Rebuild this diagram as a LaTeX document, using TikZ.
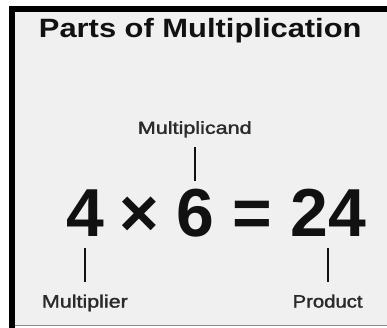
\documentclass[tikz,border=0pt]{standalone}
\usepackage{fontspec}
\setmainfont{Liberation Sans}
\newfontfamily\medfont[FakeBold=1.6]{Liberation Sans}
\usepackage{graphicx}
\definecolor{bggray}{HTML}{F0F0F0}
\definecolor{ink}{HTML}{111111}
\definecolor{labelgray}{HTML}{2A2A2A}
\definecolor{edgegray}{HTML}{8A8A8A}
\begin{document}
\begin{tikzpicture}[x=1pt,y=-1pt,
  txt/.style={inner sep=0pt, anchor=base, text=ink},
  lbl/.style={txt, text=labelgray},
  digit/.style={txt, font=\fontsize{68}{70}\selectfont\bfseries},
  conn/.style={line width=2pt, draw=ink}]
% frame and background
\fill[white] (0,0) rectangle (387,328);
\fill[bggray] (15,12) rectangle (387,326);
\fill[black] (9,6) rectangle (387,12);
\fill[black] (9,6) rectangle (15,328);
\draw[edgegray, line width=1pt] (15,326) -- (387,326);
\useasboundingbox (0,0) rectangle (387,328);
% title
\node[txt, font=\fontsize{26.5}{30}\selectfont\bfseries] (title) at (200.5,37.5)
  {\resizebox{323pt}{\height}{Parts of Multiplication}};
% equation
\node[digit] (four) at (85,237) {4};
\node[digit] (times) at (140,237) {×};
\node[digit] (six) at (196,237) {6};
\node[digit] (eq) at (252.5,237) {=};
\node[digit] (tf) at (328.5,237) {24};
% labels
\node[lbl, font=\fontsize{17.5}{20}\selectfont\medfont] (mc) at (195,134)
  {\resizebox{114pt}{\height}{Multiplicand}};
\node[lbl, font=\fontsize{18}{20}\selectfont\medfont] (ml) at (85,308)
  {\resizebox{86pt}{\height}{Multiplier}};
\node[lbl, font=\fontsize{18}{20}\selectfont\medfont] (pr) at (328,308)
  {\resizebox{70pt}{\height}{Product}};
% connectors
\draw[conn, shorten <=9.5pt, shorten >=8pt] (mc.south) -- (mc.south |- six.north);
\draw[conn, shorten <=11pt, shorten >=12.5pt] (four.south) -- (four.south |- ml.north);
\draw[conn, shorten <=11pt, shorten >=12.5pt] (tf.south) -- (tf.south |- pr.north);
\end{tikzpicture}
\end{document}
